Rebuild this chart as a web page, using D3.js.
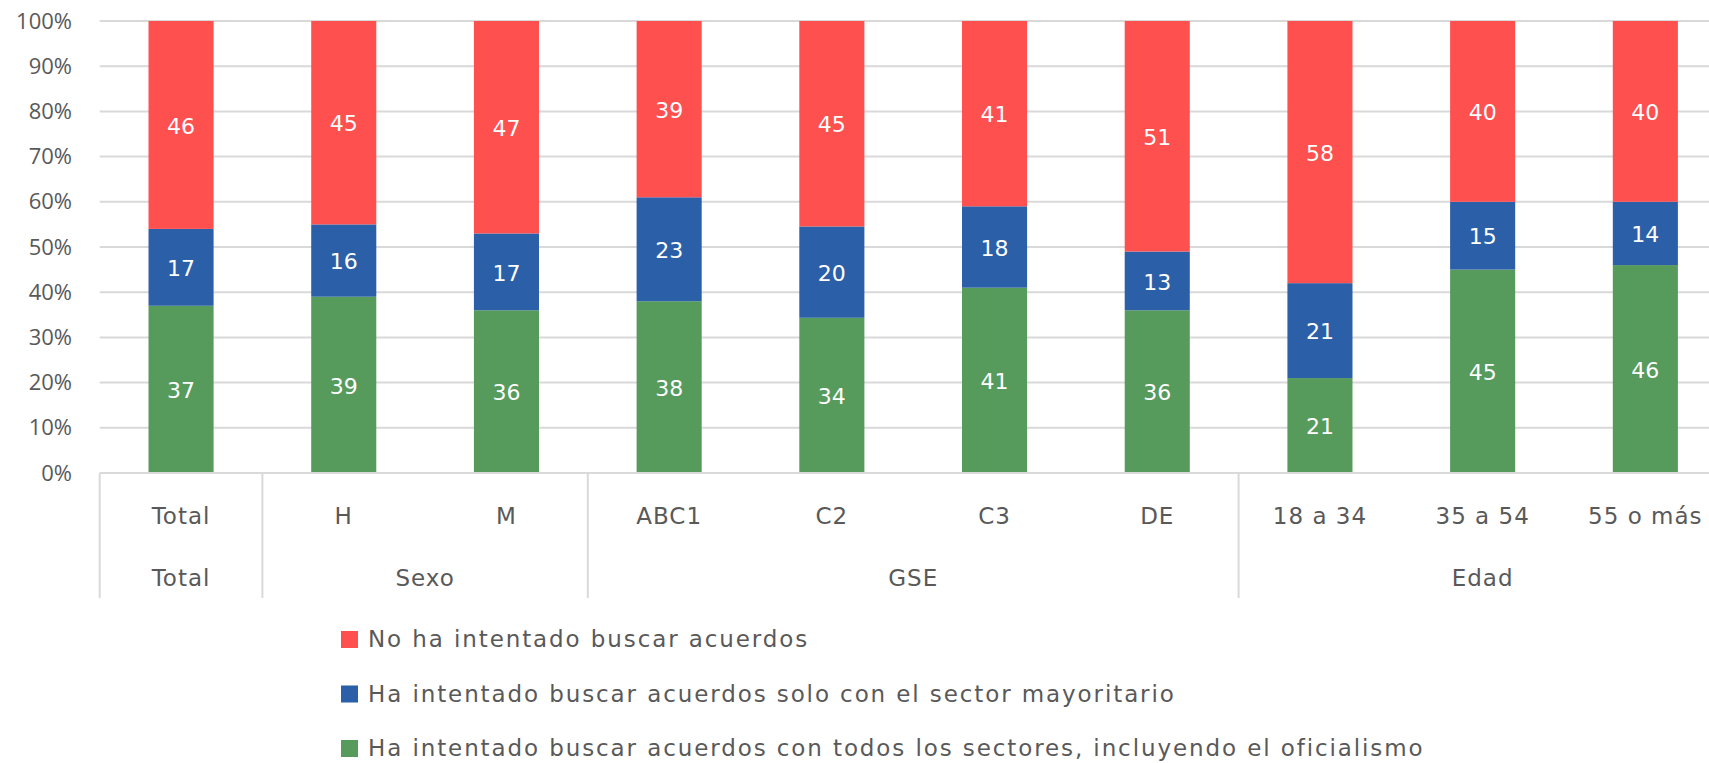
<!DOCTYPE html>
<html>
<head>
<meta charset="utf-8">
<script src="https://cdn.jsdelivr.net/npm/d3@7"></script>
<style>
  html, body { margin: 0; padding: 0; background: #fff; overflow: hidden; }
  svg { display: block; font-family: "DejaVu Sans", "Open Sans", sans-serif; }
</style>
</head>
<body>
<svg id="chart" width="1709" height="763"></svg>
<script>
// categories and their groups
var categories = ["Total", "H", "M", "ABC1", "C2", "C3", "DE", "18 a 34", "35 a 54", "55 o más"];
var groups = [
  { name: "Total", from: 0, to: 0 },
  { name: "Sexo", from: 1, to: 2 },
  { name: "GSE", from: 3, to: 6 },
  { name: "Edad", from: 7, to: 9 }
];

// series (bottom to top)
var seriesNames = [
  "Ha intentado buscar acuerdos con todos los sectores, incluyendo el oficialismo",
  "Ha intentado buscar acuerdos solo con el sector mayoritario",
  "No ha intentado buscar acuerdos"
];
var todos       = [37, 39, 36, 38, 34, 41, 36, 21, 45, 46];
var mayoritario = [17, 16, 17, 23, 20, 18, 13, 21, 15, 14];
var noHa        = [46, 45, 47, 39, 45, 41, 51, 58, 40, 40];
var seriesColors = ["#569A5C", "#2B5FA8", "#FF5050"];

var yTicks = [0, 0.1, 0.2, 0.3, 0.4, 0.5, 0.6, 0.7, 0.8, 0.9, 1];

var cfg = {
  x0: 99.7,
  band: 162.7,
  yTop: 21,
  yBottom: 473,
  barFrac: 0.4,
  textColor: "#595959",
  gridColor: "#d9d9d9"
};

var svg = d3.select("#chart");

var rows = categories.map(function(c, i) {
  return { cat: c, s0: todos[i], s1: mayoritario[i], s2: noHa[i] };
});

// 100% stacked
var stack = d3.stack().keys(["s0", "s1", "s2"]).offset(d3.stackOffsetExpand);
var layers = stack(rows);

var x = d3.scaleBand()
  .domain(categories)
  .range([cfg.x0, cfg.x0 + cfg.band * categories.length])
  .paddingInner(0).paddingOuter(0);

var y = d3.scaleLinear().domain([0, 1]).range([cfg.yBottom, cfg.yTop]);

// gridlines
svg.append("g").selectAll("line")
  .data(yTicks.slice(1))
  .enter().append("line")
  .attr("x1", cfg.x0).attr("x2", 1709)
  .attr("y1", function(d) { return y(d); })
  .attr("y2", function(d) { return y(d); })
  .attr("stroke", cfg.gridColor)
  .attr("stroke-width", 2);

// y axis labels
var yAxis = d3.axisLeft(y).tickValues(yTicks).tickFormat(d3.format(".0%")).tickSize(0).tickPadding(0);
var yg = svg.append("g").attr("transform", "translate(72,0)").call(yAxis);
yg.select(".domain").remove();
yg.selectAll("text")
  .attr("fill", cfg.textColor)
  .style("font-size", "22px")
  .style("font-family", "'Open Sans', sans-serif");

// bars
var bw = x.bandwidth() * cfg.barFrac;
var layerG = svg.append("g").selectAll("g")
  .data(layers)
  .enter().append("g")
  .attr("fill", function(d, i) { return seriesColors[i]; });

layerG.selectAll("rect")
  .data(function(d) { return d; })
  .enter().append("rect")
  .attr("x", function(d) { return x(d.data.cat) + (x.bandwidth() - bw) / 2; })
  .attr("width", bw)
  .attr("y", function(d) { return y(d[1]); })
  .attr("height", function(d) { return y(d[0]) - y(d[1]); });

// data labels
layers.forEach(function(layer) {
  svg.append("g").selectAll("text")
    .data(layer)
    .enter().append("text")
    .attr("x", function(d) { return x(d.data.cat) + x.bandwidth() / 2; })
    .attr("y", function(d) { return (y(d[0]) + y(d[1])) / 2 + 1; })
    .attr("dy", "0.35em")
    .attr("text-anchor", "middle")
    .attr("fill", "#fff")
    .style("font-size", "22px")
    .text(function(d) { return d.data[layer.key]; });
});

// x axis baseline
svg.append("line")
  .attr("x1", cfg.x0).attr("x2", 1709)
  .attr("y1", cfg.yBottom).attr("y2", cfg.yBottom)
  .attr("stroke", cfg.gridColor).attr("stroke-width", 2);

// category labels
svg.append("g").selectAll("text")
  .data(categories)
  .enter().append("text")
  .attr("x", function(d) { return x(d) + x.bandwidth() / 2; })
  .attr("y", 516)
  .attr("dy", "0.35em")
  .attr("text-anchor", "middle")
  .attr("fill", cfg.textColor)
  .style("font-size", "23px")
  .style("letter-spacing", "1px")
  .text(function(d) { return d; });

// group dividers
var dividers = [cfg.x0].concat(groups.slice(0, -1).map(function(g) {
  return x(categories[g.to]) + x.bandwidth();
}));
svg.append("g").selectAll("line")
  .data(dividers)
  .enter().append("line")
  .attr("x1", function(d) { return d; }).attr("x2", function(d) { return d; })
  .attr("y1", cfg.yBottom).attr("y2", 598)
  .attr("stroke", cfg.gridColor).attr("stroke-width", 2);

// group labels
svg.append("g").selectAll("text")
  .data(groups)
  .enter().append("text")
  .attr("x", function(g) { return (x(categories[g.from]) + x(categories[g.to]) + x.bandwidth()) / 2; })
  .attr("y", 578)
  .attr("dy", "0.35em")
  .attr("text-anchor", "middle")
  .attr("fill", cfg.textColor)
  .style("font-size", "23px")
  .style("letter-spacing", "1px")
  .text(function(g) { return g.name; });

// legend (top to bottom: red, blue, green)
var legendItems = [2, 1, 0];
var lg = svg.append("g").selectAll("g")
  .data(legendItems)
  .enter().append("g")
  .attr("transform", function(d, i) { return "translate(341," + (639 + i * 54.5) + ")"; });
lg.append("rect")
  .attr("x", 0).attr("y", -8).attr("width", 17).attr("height", 17)
  .attr("fill", function(d) { return seriesColors[d]; });
lg.append("text")
  .attr("x", 27).attr("y", 0).attr("dy", "0.35em")
  .attr("fill", cfg.textColor)
  .style("font-size", "23px")
  .style("letter-spacing", "1.9px")
  .text(function(d) { return seriesNames[d]; });
</script>
</body>
</html>
